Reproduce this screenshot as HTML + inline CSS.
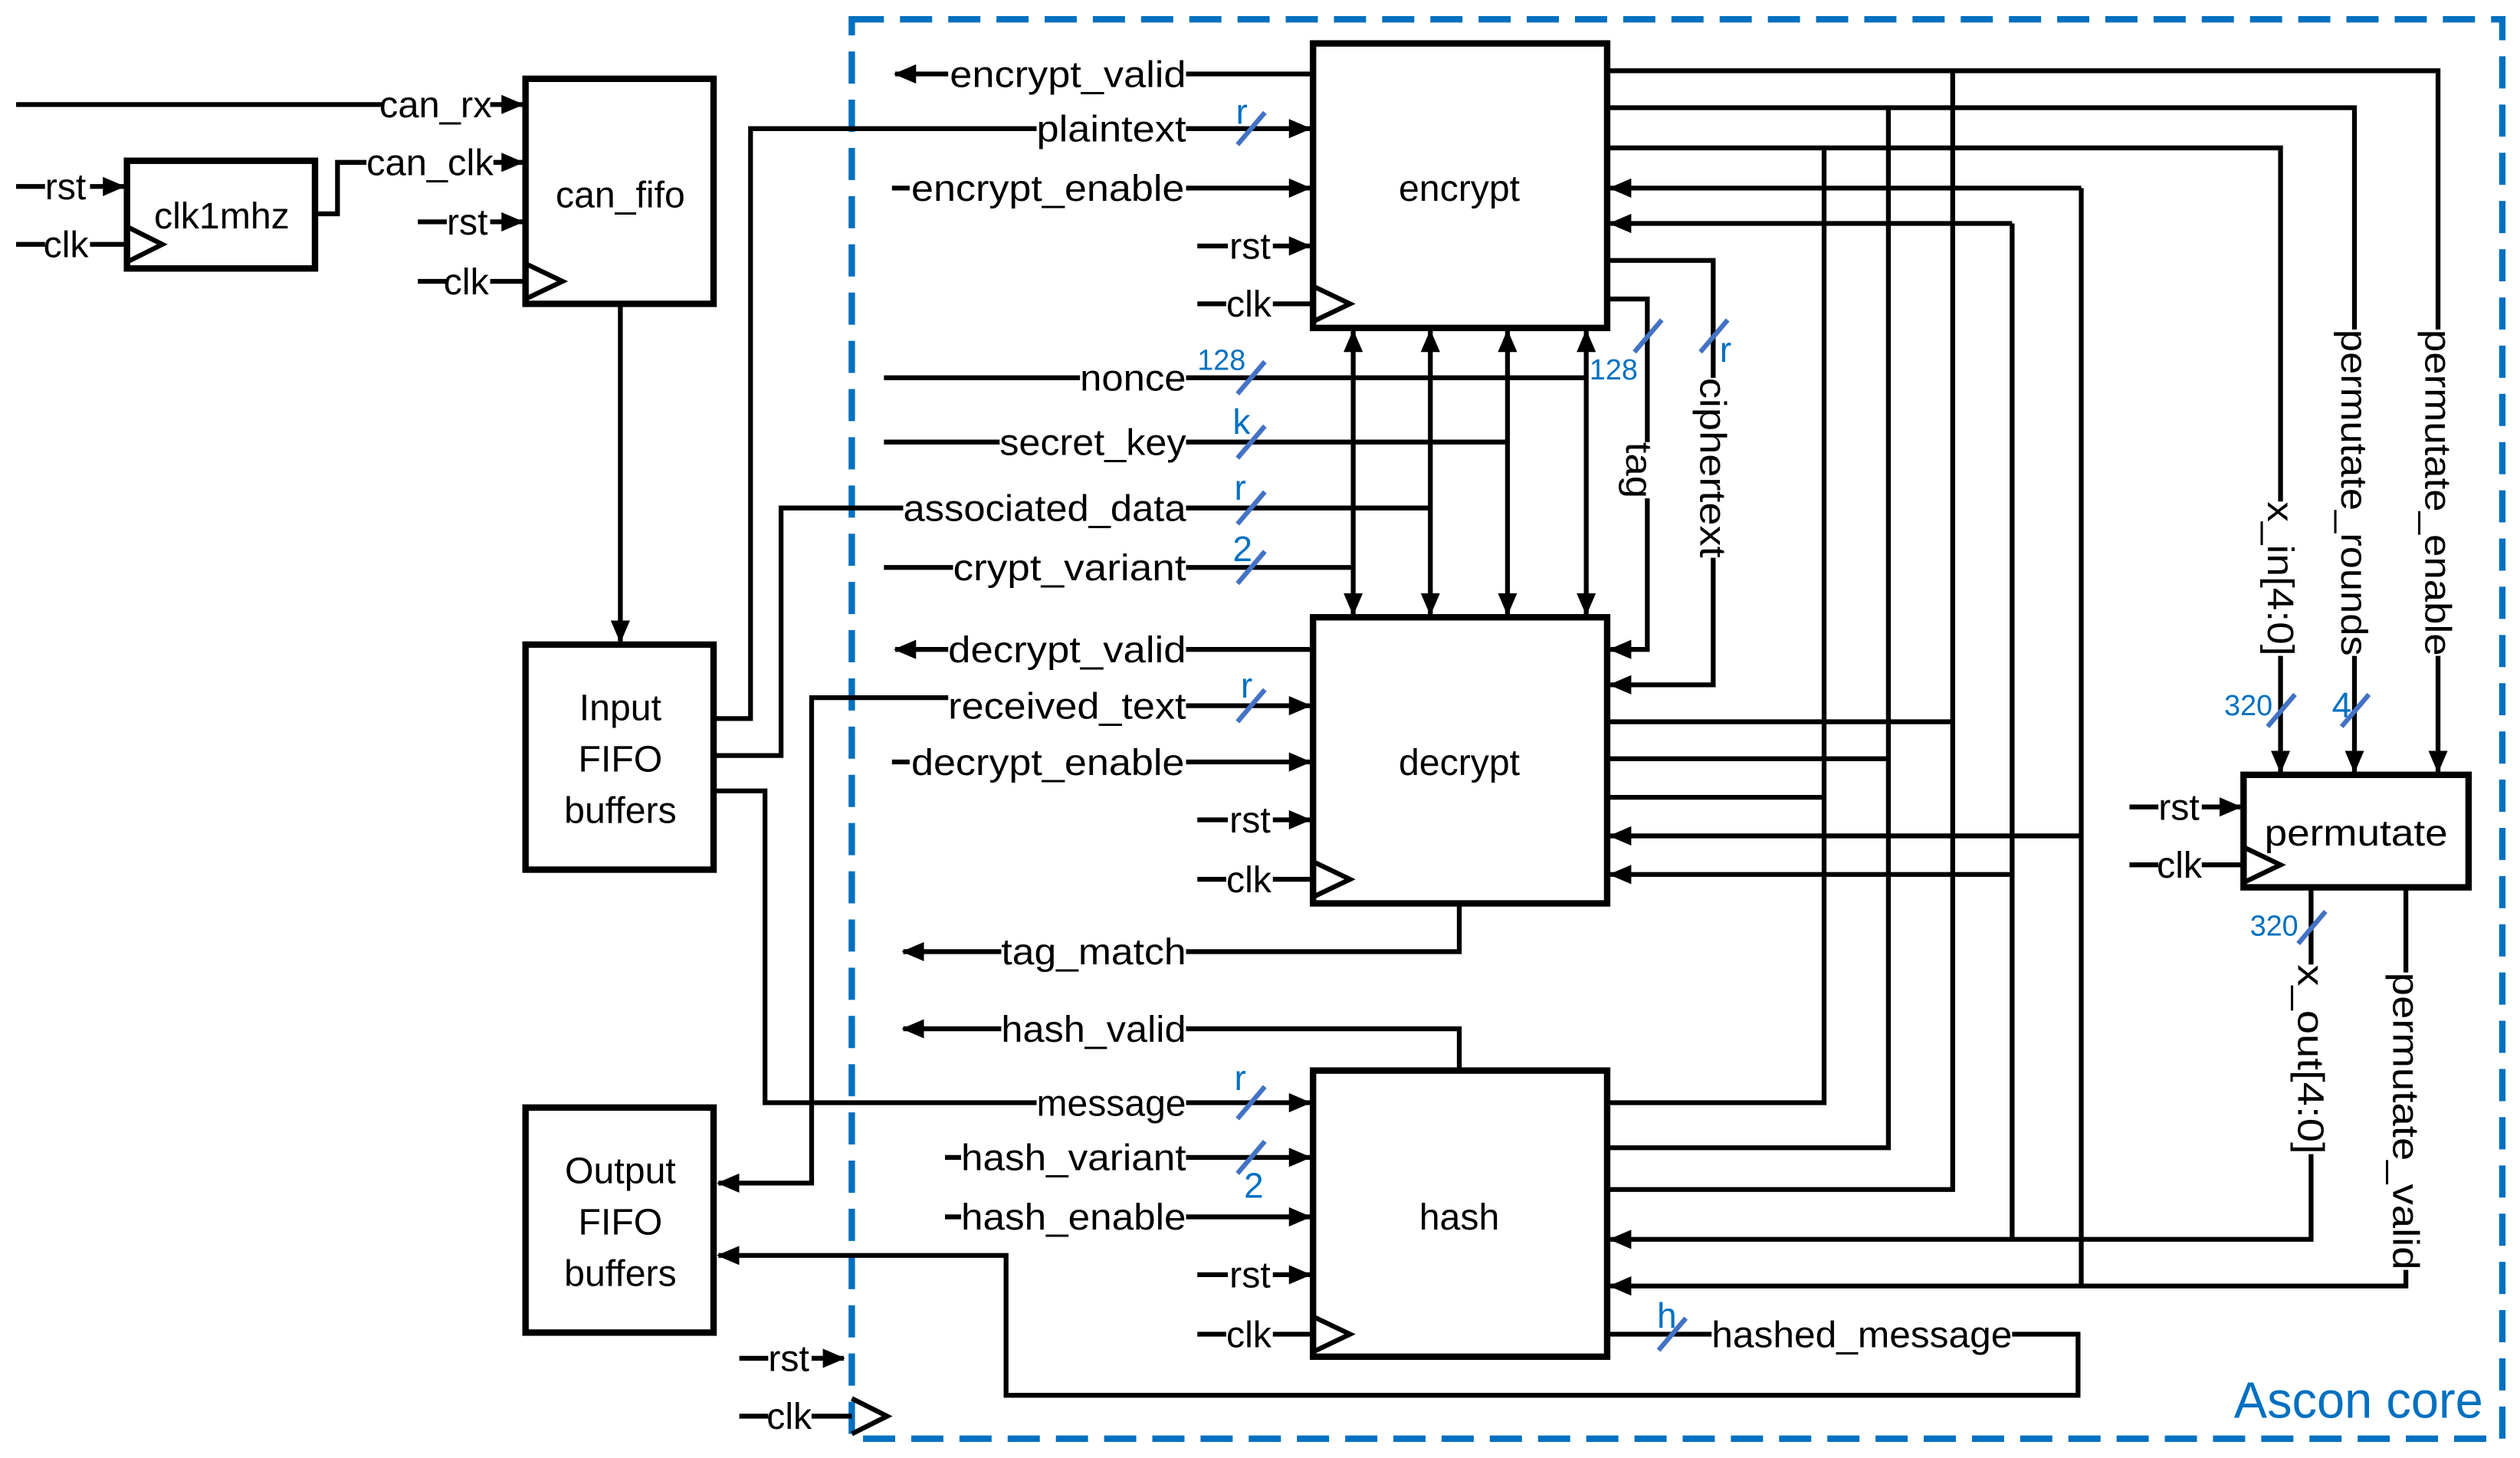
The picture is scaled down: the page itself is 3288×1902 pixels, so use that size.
<!DOCTYPE html>
<html><head><meta charset="utf-8"><style>
html,body{margin:0;padding:0;background:#fff}
svg{display:block}
text{font-family:"Liberation Sans Narrow","Liberation Sans",sans-serif;font-size:23px;fill:#000}
text.b{fill:#0070C0;font-size:22px}
text.n{fill:#0070C0;font-size:18px}
</style></head><body>
<svg width="3288" height="1902" viewBox="0 0 1568 907" xmlns="http://www.w3.org/2000/svg">
<defs>
<marker id="a" markerWidth="14" markerHeight="12" refX="13" refY="6" orient="auto-start-reverse" markerUnits="userSpaceOnUse"><path d="M0,0L14,6L0,12z" fill="#000"/></marker>
</defs>
<rect width="1568" height="907" fill="#fff"/>
<rect x="530" y="12" width="1027" height="883" fill="none" stroke="#0070C0" stroke-width="4" stroke-dasharray="20 10"/>
<text x="1390" y="882" style="fill:#0070C0;font-size:32px" textLength="155" lengthAdjust="spacingAndGlyphs">Ascon core</text>

<g fill="none" stroke="#000" stroke-width="3">
<rect x="817" y="27" width="183" height="177" stroke-width="4"/>
<rect x="817" y="384" width="183" height="178" stroke-width="4"/>
<rect x="817" y="666" width="183" height="178" stroke-width="4"/>
<rect x="1396" y="482" width="140" height="70" stroke-width="4"/>
<rect x="327" y="49" width="117" height="140" stroke-width="4"/>
<rect x="79" y="100" width="117" height="67" stroke-width="4"/>
<rect x="327" y="401" width="117" height="140" stroke-width="4"/>
<rect x="327" y="689" width="117" height="140" stroke-width="4"/>
<path d="M817,178L840,189L817,200"/>
<path d="M817,536L840,547L817,558"/>
<path d="M817,819L840,830L817,841"/>
<path d="M1396,527L1419,538L1396,549"/>
<path d="M327,164L350,175L327,186"/>
<path d="M79,141L101,152L79,163"/>
<path d="M530,870L552,881L530,892"/>

<path d="M10,65H238"/><path d="M305,65H325" marker-end="url(#a)"/>
<path d="M10,116H28"/><path d="M56,116H77" marker-end="url(#a)"/>
<path d="M10,152H28"/><path d="M56,152H79"/>
<path d="M196,133H210V101H228"/><path d="M307,101H325" marker-end="url(#a)"/>
<path d="M260,138H278"/><path d="M305,138H325" marker-end="url(#a)"/>
<path d="M260,175H278"/><path d="M305,175H327"/>
<path d="M386,189V399" marker-end="url(#a)"/>
<path d="M444,447H467V80H645"/>
<path d="M444,470H486V316H562"/>
<path d="M444,492H476V686H645"/>
<path d="M590,434H505V736H447" marker-end="url(#a)"/>
<path d="M1252,830H1293V868H626V781H447" marker-end="url(#a)"/>
<path d="M460,845H478"/><path d="M505,845H525" marker-end="url(#a)"/>
<path d="M460,881H478"/><path d="M505,881H530"/>

<path d="M817,46H738"/><path d="M590,46H557" marker-end="url(#a)"/>
<path d="M738,80H815" marker-end="url(#a)"/>
<path d="M555,117H566"/><path d="M738,117H815" marker-end="url(#a)"/>
<path d="M745,153H764"/><path d="M792,153H815" marker-end="url(#a)"/>
<path d="M745,189H763"/><path d="M792,189H817"/>
<path d="M550,235H672"/><path d="M738,235H987"/>
<path d="M550,275H622"/><path d="M738,275H938"/>
<path d="M738,316H890"/>
<path d="M550,353H593"/><path d="M738,353H842"/>
<path d="M842,206V382" marker-start="url(#a)" marker-end="url(#a)"/>
<path d="M890,206V382" marker-start="url(#a)" marker-end="url(#a)"/>
<path d="M938,206V382" marker-start="url(#a)" marker-end="url(#a)"/>
<path d="M987,206V382" marker-start="url(#a)" marker-end="url(#a)"/>

<path d="M817,404H738"/><path d="M590,404H557" marker-end="url(#a)"/>
<path d="M738,439H815" marker-end="url(#a)"/>
<path d="M555,474H566"/><path d="M738,474H815" marker-end="url(#a)"/>
<path d="M745,510H764"/><path d="M792,510H815" marker-end="url(#a)"/>
<path d="M745,547H763"/><path d="M792,547H817"/>
<path d="M908,562V592H738"/><path d="M623,592H562" marker-end="url(#a)"/>
<path d="M908,666V640H738"/><path d="M623,640H562" marker-end="url(#a)"/>

<path d="M738,686H815" marker-end="url(#a)"/>
<path d="M588,720H598"/><path d="M738,720H815" marker-end="url(#a)"/>
<path d="M588,757H598"/><path d="M738,757H815" marker-end="url(#a)"/>
<path d="M745,793H764"/><path d="M792,793H815" marker-end="url(#a)"/>
<path d="M745,830H763"/><path d="M792,830H817"/>
<path d="M1000,830H1065"/>

<path d="M1000,44H1517V205"/><path d="M1517,408V480" marker-end="url(#a)"/>
<path d="M1000,67H1465V205"/><path d="M1465,408V480" marker-end="url(#a)"/>
<path d="M1000,92H1419V312"/><path d="M1419,408V480" marker-end="url(#a)"/>
<path d="M1295,117H1002" marker-end="url(#a)"/>
<path d="M1252,139H1002" marker-end="url(#a)"/>
<path d="M1000,162H1066V235"/><path d="M1066,347V426H1002" marker-end="url(#a)"/>
<path d="M1000,186H1025V275"/><path d="M1025,310V404H1002" marker-end="url(#a)"/>
<path d="M1215,44V740H1000"/>
<path d="M1175,67V714H1000"/>
<path d="M1135,92V686H1000"/>
<path d="M1000,449H1215"/>
<path d="M1000,472H1175"/>
<path d="M1000,496H1135"/>
<path d="M1295,117V800"/>
<path d="M1252,139V771"/>
<path d="M1295,520H1002" marker-end="url(#a)"/>
<path d="M1252,544H1002" marker-end="url(#a)"/>
<path d="M1438,552V600"/><path d="M1438,718V771H1002" marker-end="url(#a)"/>
<path d="M1497,552V605"/><path d="M1497,790V800H1002" marker-end="url(#a)"/>
<path d="M1325,502H1343"/><path d="M1370,502H1394" marker-end="url(#a)"/>
<path d="M1325,538H1343"/><path d="M1370,538H1396"/>
</g>

<g stroke="#4472C4" stroke-width="3">
<path d="M770,90L787,70"/><path d="M770,245L787,225"/><path d="M770,285L787,265"/>
<path d="M770,326L787,306"/><path d="M770,363L787,343"/><path d="M770,449L787,429"/>
<path d="M770,696L787,676"/><path d="M770,730L787,710"/>
<path d="M1017,219L1034,199"/><path d="M1058,219L1075,199"/>
<path d="M1411,452L1428,432"/><path d="M1457,452L1474,432"/>
<path d="M1430,587L1447,567"/><path d="M1032,840L1049,820"/>
</g>
<text class="b" x="769" y="77">r</text>
<text class="n" x="745" y="230">128</text>
<text class="b" x="767" y="270">k</text>
<text class="b" x="768" y="311">r</text>
<text class="b" x="767" y="349">2</text>
<text class="b" x="772" y="434">r</text>
<text class="b" x="768" y="678">r</text>
<text class="b" x="774" y="745">2</text>
<text class="n" x="989" y="236">128</text>
<text class="b" x="1070" y="225">r</text>
<text class="n" x="1384" y="445">320</text>
<text class="b" x="1451" y="446">4</text>
<text class="n" x="1400" y="582">320</text>
<text class="b" x="1031" y="826">h</text>

<text x="236" y="73" textLength="70" lengthAdjust="spacingAndGlyphs">can_rx</text>
<text x="28" y="124">rst</text><text x="27" y="160">clk</text>
<text x="228" y="109" textLength="79" lengthAdjust="spacingAndGlyphs">can_clk</text>
<text x="278" y="146">rst</text><text x="276" y="183">clk</text>
<text x="138" y="142" text-anchor="middle">clk1mhz</text>
<text x="386" y="129" text-anchor="middle">can_fifo</text>
<text x="386" y="448" text-anchor="middle">Input</text>
<text x="386" y="480" text-anchor="middle">FIFO</text>
<text x="386" y="512" text-anchor="middle">buffers</text>
<text x="386" y="736" text-anchor="middle">Output</text>
<text x="386" y="768" text-anchor="middle">FIFO</text>
<text x="386" y="800" text-anchor="middle">buffers</text>
<text x="478" y="853">rst</text><text x="477" y="889">clk</text>

<text x="908" y="125" text-anchor="middle">encrypt</text>
<text x="908" y="482" text-anchor="middle">decrypt</text>
<text x="908" y="765" text-anchor="middle">hash</text>
<text x="1466" y="526" text-anchor="middle" textLength="114" lengthAdjust="spacingAndGlyphs">permutate</text>
<text x="1343" y="510">rst</text><text x="1342" y="546">clk</text>

<text x="591" y="54" textLength="147" lengthAdjust="spacingAndGlyphs">encrypt_valid</text>
<text x="645" y="88" textLength="93" lengthAdjust="spacingAndGlyphs">plaintext</text>
<text x="567" y="125" textLength="170" lengthAdjust="spacingAndGlyphs">encrypt_enable</text>
<text x="765" y="161">rst</text><text x="763" y="197">clk</text>
<text x="672" y="243" textLength="66" lengthAdjust="spacingAndGlyphs">nonce</text>
<text x="622" y="283" textLength="116" lengthAdjust="spacingAndGlyphs">secret_key</text>
<text x="562" y="324" textLength="176" lengthAdjust="spacingAndGlyphs">associated_data</text>
<text x="593" y="361" textLength="145" lengthAdjust="spacingAndGlyphs">crypt_variant</text>
<text x="590" y="412" textLength="148" lengthAdjust="spacingAndGlyphs">decrypt_valid</text>
<text x="590" y="447" textLength="148" lengthAdjust="spacingAndGlyphs">received_text</text>
<text x="567" y="482" textLength="170" lengthAdjust="spacingAndGlyphs">decrypt_enable</text>
<text x="765" y="518">rst</text><text x="763" y="555">clk</text>
<text x="623" y="600" textLength="115" lengthAdjust="spacingAndGlyphs">tag_match</text>
<text x="623" y="648" textLength="115" lengthAdjust="spacingAndGlyphs">hash_valid</text>
<text x="645" y="694" textLength="93" lengthAdjust="spacingAndGlyphs">message</text>
<text x="598" y="728" textLength="140" lengthAdjust="spacingAndGlyphs">hash_variant</text>
<text x="598" y="765" textLength="140" lengthAdjust="spacingAndGlyphs">hash_enable</text>
<text x="765" y="801">rst</text><text x="763" y="838">clk</text>
<text x="1065" y="838" textLength="187" lengthAdjust="spacingAndGlyphs">hashed_message</text>

<text transform="translate(1012,275) rotate(90)" textLength="35" lengthAdjust="spacingAndGlyphs">tag</text>
<text transform="translate(1058,235) rotate(90)" textLength="112" lengthAdjust="spacingAndGlyphs">ciphertext</text>
<text transform="translate(1411,312) rotate(90)" textLength="96" lengthAdjust="spacingAndGlyphs">x_in[4:0]</text>
<text transform="translate(1457,205) rotate(90)" textLength="203" lengthAdjust="spacingAndGlyphs">permutate_rounds</text>
<text transform="translate(1509,205) rotate(90)" textLength="203" lengthAdjust="spacingAndGlyphs">permutate_enable</text>
<text transform="translate(1430,600) rotate(90)" textLength="118" lengthAdjust="spacingAndGlyphs">x_out[4:0]</text>
<text transform="translate(1489,605) rotate(90)" textLength="185" lengthAdjust="spacingAndGlyphs">permutate_valid</text>
</svg>
</body></html>
